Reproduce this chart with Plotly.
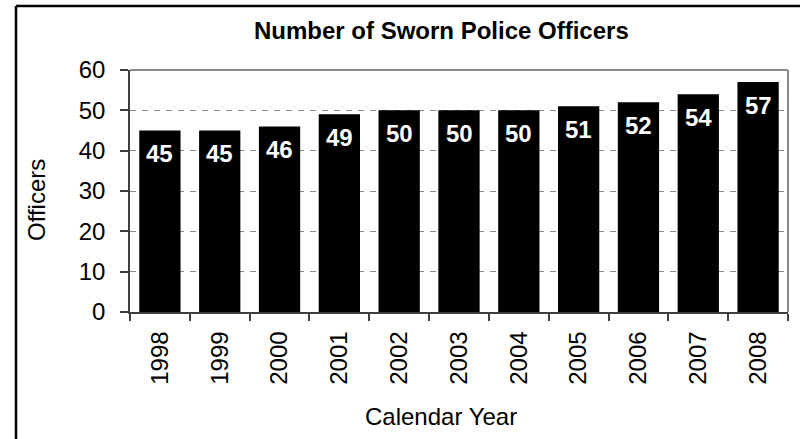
import plotly.graph_objects as go

years = ["1998", "1999", "2000", "2001", "2002", "2003", "2004", "2005", "2006", "2007", "2008"]
officers = [45, 45, 46, 49, 50, 50, 50, 51, 52, 54, 57]
y_ticks = [0, 10, 20, 30, 40, 50, 60]

FONT = "Liberation Sans, Arial, sans-serif"
W, H = 800, 439
L, R, T, B = 130, 12, 70, 127
pw, ph = W - L - R, H - T - B

fig = go.Figure()
fig.add_trace(go.Bar(
    x=years, y=officers,
    marker=dict(color="black", line=dict(width=0)),
    hoverinfo="x+y",
))

# value labels inside the top of each bar (x given as category index)
for i, v in enumerate(officers):
    fig.add_annotation(
        x=i, y=v, xref="x", yref="y", text=f"<b>{v}</b>",
        showarrow=False, yanchor="middle", yshift=-23,
        font=dict(family=FONT, size=24, color="white"),
    )

# chart title and axis titles
fig.add_annotation(
    x=(441 - L) / pw, y=1 + (T - 31) / ph, xref="paper", yref="paper",
    text="<b>Number of Sworn Police Officers</b>", showarrow=False,
    xanchor="center", yanchor="middle",
    font=dict(family=FONT, size=24, color="black"),
)
fig.add_annotation(
    x=(441 - L) / pw, y=-(416 - T - ph) / ph, xref="paper", yref="paper",
    text="Calendar Year", showarrow=False, xanchor="center", yanchor="middle",
    font=dict(family=FONT, size=24, color="black"),
)
fig.add_annotation(
    x=(36 - L) / pw, y=1 - (200 - T) / ph, xref="paper", yref="paper",
    text="Officers", showarrow=False, textangle=-90,
    xanchor="center", yanchor="middle",
    font=dict(family=FONT, size=24, color="black"),
)

# gray frame on the top and right of the plot area
fig.add_shape(type="line", xref="paper", yref="paper", x0=0, x1=1, y0=1, y1=1,
              line=dict(color="#8a8a8a", width=2))
fig.add_shape(type="line", xref="paper", yref="paper", x0=1, x1=1, y0=0, y1=1,
              line=dict(color="#8a8a8a", width=2))

# outer border (left and top edges)
bx = (16 - L) / pw
by = 1 + (T - 6) / ph
fig.add_shape(type="line", xref="paper", yref="paper",
              x0=bx, x1=bx, y0=-(H - T - ph + 5) / ph, y1=by,
              line=dict(color="black", width=2.5))
fig.add_shape(type="line", xref="paper", yref="paper",
              x0=bx, x1=(W - L) / pw, y0=by, y1=by,
              line=dict(color="black", width=2.5))

fig.update_layout(
    width=W, height=H,
    margin=dict(l=L, r=R, t=T, b=B, pad=0),
    paper_bgcolor="white", plot_bgcolor="white",
    bargap=0.31,
    showlegend=False,
    font=dict(family=FONT, size=24, color="black"),
)
fig.update_xaxes(
    type="category", categoryarray=years, categoryorder="array",
    range=[-0.5, len(years) - 0.5], autorange=False,
    tickangle=-90, tickson="boundaries",
    ticks="outside", ticklen=7, tickcolor="#404040", tickwidth=1.5,
    showline=True, linecolor="#404040", linewidth=1.5,
    showgrid=False, ticklabelstandoff=8,
    tickfont=dict(family=FONT, size=24, color="black"),
)
fig.update_yaxes(
    range=[0, 60], tickvals=y_ticks,
    ticks="outside", ticklen=8, tickcolor="#404040", tickwidth=1.5,
    showline=True, linecolor="#404040", linewidth=1.5,
    showgrid=True, gridcolor="#8a8a8a", gridwidth=1, griddash="6px,6px",
    zeroline=False, ticklabelstandoff=10,
    tickfont=dict(family=FONT, size=24, color="black"),
)

fig.write_html("out.html")
